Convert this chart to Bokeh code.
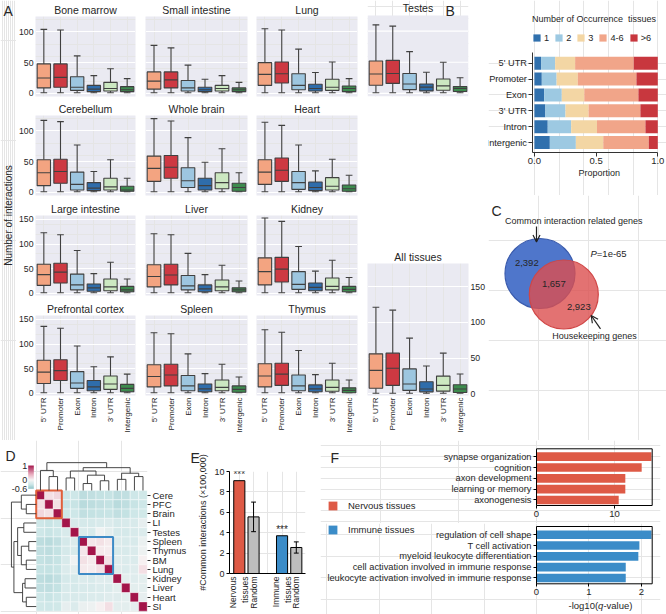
import numpy as np
from bokeh.plotting import figure
from bokeh.layouts import row, column
from bokeh.models import (Range1d, FixedTicker, LinearAxis, Grid, Label, Spacer, ColumnDataSource, Arrow,
                          OpenHead, LinearColorMapper, Legend, LegendItem, NumeralTickFormatter, Title)
from bokeh.transform import dodge
from bokeh.core.properties import value
from bokeh.embed import file_html
from bokeh.resources import INLINE

# ---------------- Panel A : box statistics per tissue ----------------
regions = ["5' UTR", "Promoter", "Exon", "Intron", "3' UTR", "Intergenic"]
whisker_low = [1, 1, 1, 1, 1, 1]
bone_marrow = dict(hi=[104, 103, 61, 29, 40, 24], q3=[48, 48, 27, 13, 18, 11], med=[25, 26, 10, 7, 8, 6], q1=[9, 10, 5, 3, 4, 3])
small_intestine = dict(hi=[78, 74, 46, 23, 29, 18], q3=[35, 35, 21, 10, 13, 9], med=[20, 22, 9, 6, 8, 6], q1=[7, 9, 4, 3, 4, 3])
lung = dict(hi=[105, 103, 72, 34, 51, 24], q3=[50, 51, 32, 15, 23, 12], med=[31, 32, 13, 8, 10, 8], q1=[13, 17, 6, 4, 5, 3])
testes = dict(hi=[110, 108, 67, 34, 50, 25], q3=[52, 53, 32, 15, 23, 11], med=[31, 32, 15, 10, 12, 8], q1=[13, 16, 6, 4, 5, 3])
cerebellum = dict(hi=[117, 115, 77, 34, 53, 23], q3=[53, 54, 33, 16, 23, 10], med=[32, 34, 13, 7, 9, 4], q1=[11, 15, 4, 3, 4, 2])
whole_brain = dict(hi=[120, 116, 89, 49, 71, 32], q3=[59, 60, 40, 23, 32, 15], med=[39, 41, 19, 11, 16, 8], q1=[18, 23, 8, 4, 6, 2])
heart = dict(hi=[114, 109, 77, 35, 54, 28], q3=[53, 56, 34, 17, 24, 12], med=[33, 36, 16, 8, 10, 6], q1=[13, 18, 5, 3, 4, 2])
large_intestine = dict(hi=[123, 119, 87, 40, 63, 29], q3=[59, 61, 39, 19, 29, 14], med=[38, 43, 17, 11, 13, 7], q1=[16, 21, 7, 4, 5, 3])
liver = dict(hi=[121, 119, 81, 38, 57, 25], q3=[58, 59, 36, 17, 27, 11], med=[34, 37, 15, 9, 13, 7], q1=[13, 17, 7, 3, 5, 3])
kidney = dict(hi=[153, 146, 95, 45, 67, 32], q3=[72, 73, 44, 21, 31, 14], med=[44, 49, 18, 12, 14, 8], q1=[17, 23, 8, 5, 7, 3])
prefrontal_cortex = dict(hi=[136, 132, 96, 54, 74, 39], q3=[67, 68, 44, 26, 35, 18], med=[43, 46, 21, 13, 19, 10], q1=[20, 26, 10, 5, 8, 3])
spleen = dict(hi=[123, 121, 80, 40, 59, 33], q3=[58, 59, 36, 19, 27, 15], med=[34, 37, 15, 9, 12, 8], q1=[13, 15, 5, 3, 5, 2])
thymus = dict(hi=[129, 124, 87, 38, 61, 27], q3=[60, 61, 37, 17, 27, 11], med=[35, 39, 15, 9, 12, 6], q1=[13, 16, 5, 3, 4, 1])
all_tissues = dict(hi=[121, 117, 78, 39, 57, 28], q3=[56, 57, 35, 17, 25, 13], med=[33, 36, 14, 7, 12, 7], q1=[8, 12, 5, 3, 4, 2])
ticks_small = [0, 50, 100]
ticks_large = [0, 50, 100, 150]

# ---------------- Panel B : occurrence proportions ----------------
b_regions = ["5' UTR", "Promoter", "Exon", "3' UTR", "Intron", "Intergenic"]
occurrence_classes = ["1", "2", "3", "4-6", ">6"]
occ_1 = [0.054, 0.060, 0.079, 0.089, 0.108, 0.125]
occ_2 = [0.114, 0.120, 0.143, 0.163, 0.190, 0.211]
occ_3 = [0.162, 0.172, 0.182, 0.187, 0.209, 0.222]
occ_4_6 = [0.475, 0.475, 0.439, 0.420, 0.393, 0.369]
occ_gt6 = [0.195, 0.173, 0.157, 0.141, 0.100, 0.073]

# ---------------- Panel C : Venn counts ----------------
only_common = 2392
shared_genes = 1657
only_housekeeping = 2923
venn_p = "1e-65"

# ---------------- Panel D : tissue correlation ----------------
d_tissues = ["Cere", "PFC", "Brain", "LI", "Testes", "Spleen", "Thymus", "BM", "Lung", "Kidney", "Liver", "Heart", "SI"]
r_cere = [1, .12, .15, -.30, -.30, -.38, -.36, -.35, -.33, -.38, -.36, -.30, -.28]
r_pfc = [.12, 1, .10, -.32, -.32, -.40, -.38, -.36, -.34, -.40, -.37, -.32, -.30]
r_brain = [.15, .10, 1, -.30, -.30, -.36, -.35, -.33, -.32, -.36, -.34, -.30, -.28]
r_li = [-.30, -.32, -.30, 1, -.22, -.25, -.24, -.22, -.20, -.25, -.22, -.22, -.12]
r_testes = [-.30, -.32, -.30, -.22, 1, -.20, -.22, -.05, -.15, -.25, -.24, -.22, -.20]
r_spleen = [-.38, -.40, -.36, -.25, -.20, 1, .08, .10, .05, -.20, -.22, -.22, -.10]
r_thymus = [-.36, -.38, -.35, -.24, -.22, .08, 1, .06, .04, -.22, -.22, -.20, -.08]
r_bm = [-.35, -.36, -.33, -.22, -.05, .10, .06, 1, .10, -.18, -.20, -.20, .02]
r_lung = [-.33, -.34, -.32, -.20, -.15, .05, .04, .10, 1, -.18, -.20, -.18, .12]
r_kidney = [-.38, -.40, -.36, -.25, -.25, -.20, -.22, -.18, -.18, 1, -.15, -.18, -.15]
r_liver = [-.36, -.37, -.34, -.22, -.24, -.22, -.22, -.20, -.20, -.15, 1, -.15, -.15]
r_heart = [-.30, -.32, -.30, -.22, -.22, -.22, -.20, -.20, -.18, -.18, -.15, 1, -.12]
r_si = [-.28, -.30, -.28, -.12, -.20, -.10, -.08, .02, .12, -.15, -.15, -.12, 1]
col_tree = ((0, (1, 2, 0.5), 0.72), (((3, 4, 0.45), ((5, 6, 0.25), (7, 8, 0.35), 0.55), 0.7), ((9, 10, 0.4), (11, 12, 0.5), 0.62), 0.82), 1.0)
row_tree = ((0, (1, 2, 0.4), 0.6), (((3, 4, 0.5), ((5, 6, 0.3), (7, 8, 0.4), 0.6), 0.75), ((9, 10, 0.45), (11, 12, 0.4), 0.55), 0.9), 1.0)

# ---------------- Panel E : common interactions ----------------
e_groups = ["Nervous\ntissues", "Random", "Immune\ntissues", "Random"]
e_values = [9.1, 5.55, 3.7, 2.55]
random_lower = [4.1, 2.0]
random_upper = [7.0, 3.1]

# ---------------- Panel F : GO enrichment ----------------
nervous_terms = ["synapse organization", "cognition", "axon development", "learning or memory", "axonogenesis"]
nervous_q = [14.75, 13.5, 11.4, 11.4, 10.55]
immune_terms = ["regulation of cell shape", "T cell activation", "myeloid leukocyte differentiation",
                "cell activation involved in immune response", "leukocyte activation involved in immune response"]
immune_q = [2.19, 1.96, 1.94, 1.70, 1.70]

# ---------------- styles ----------------
FONT = "Liberation Sans"
INK = "#262626"
EDGE = "#404040"
PANEL_BG = "#EAEAF2"
region_colors = ["#F3A481", "#CD3942", "#9DC6E0", "#2F6DAB", "#CCE8C1", "#3D8B4E"]
occ_colors = ["#3070AD", "#9DC9E2", "#F3D6A4", "#F1A589", "#C8373E"]
RED = "#DE5A46"
BLUE = "#3B8CC8"


def base_fig(w, h, bl, br, bt, bb, xr, yr, title=None):
    p = figure(width=w, height=h, x_range=xr, y_range=yr, title=title,
               x_axis_location=None, y_axis_location=None,
               output_backend="svg", toolbar_location=None,
               min_border_left=bl, min_border_right=br, min_border_top=bt, min_border_bottom=bb)
    p.frame_align = False
    p.outline_line_color = None
    p.border_fill_color = "white"
    p.background_fill_color = "white"
    return p


def plain_axis(ax, size="9px", standoff=2, tick_out=0, line=None, tick_color=None):
    ax.axis_line_color = line
    ax.major_tick_line_color = tick_color
    ax.major_tick_out = tick_out
    ax.major_tick_in = 0
    ax.minor_tick_line_color = None
    ax.minor_tick_out = 0
    ax.minor_tick_in = 0
    ax.major_label_text_font = FONT
    ax.major_label_text_font_size = size
    ax.major_label_text_color = INK
    ax.major_label_standoff = standoff
    ax.axis_label_text_font = FONT
    ax.axis_label_text_font_style = "normal"
    ax.axis_label_text_color = INK
    return ax


def add_text(p, x, y, s, size="9px", align="left", baseline="middle", angle=0, style="normal", color=INK):
    p.text(x=[x], y=[y], text=[s], angle=angle, text_font=value(FONT), text_font_size=value(size),
           text_align=align, text_baseline=baseline, text_font_style=style, text_color=color)


def draw_boxes(p, d):
    src = ColumnDataSource(dict(x=list(range(6)), lo=whisker_low, q1=d["q1"], med=d["med"], q3=d["q3"],
                                hi=d["hi"], color=region_colors))
    kw = dict(source=src, line_color=EDGE, line_width=1.1)
    p.segment(x0="x", y0="q3", x1="x", y1="hi", **kw)
    p.segment(x0="x", y0="lo", x1="x", y1="q1", **kw)
    p.segment(x0=dodge("x", -0.2), y0="hi", x1=dodge("x", 0.2), y1="hi", **kw)
    p.segment(x0=dodge("x", -0.2), y0="lo", x1=dodge("x", 0.2), y1="lo", **kw)
    p.vbar(x="x", bottom="q1", top="q3", width=0.8, fill_color="color", **kw)
    p.segment(x0=dodge("x", -0.4), y0="med", x1=dodge("x", 0.4), y1="med", **kw)


def box_panel(title, d, w, h, bl, br, bt, bb, yr, yticks, yside=None, xlabels=False):
    p = base_fig(w, h, bl, br, bt, bb, Range1d(-0.5, 5.5), Range1d(*yr), title=title)
    p.title.align = "center"
    p.title.text_font = FONT
    p.title.text_font_size = "10.5px"
    p.title.text_font_style = "normal"
    p.title.text_color = INK
    p.title.standoff = 2
    p.background_fill_color = PANEL_BG
    p.add_layout(Grid(dimension=1, ticker=FixedTicker(ticks=yticks), grid_line_color="white", grid_line_width=1.1))
    draw_boxes(p, d)
    if yside:
        p.add_layout(plain_axis(LinearAxis(ticker=FixedTicker(ticks=yticks)), size="8.7px"), yside)
    if xlabels:
        ax = plain_axis(LinearAxis(ticker=FixedTicker(ticks=list(range(6))),
                                   major_label_overrides={i: r for i, r in enumerate(regions)}), size="8px")
        ax.major_label_orientation = np.pi / 2
        p.add_layout(ax, "below")
    return p


def box_panel_headed(title, d, w, h, bl, br, bb, head, yr, yticks, letter, letter_dx):
    """Frame also spans the title strip, so the panel letter of B can sit beside the title."""
    uy = (h - bb - head) / (yr[1] - yr[0])
    y_end = yr[1] + head / uy
    p = base_fig(w, h, bl, br, 0, bb, Range1d(-0.5, 5.5), Range1d(yr[0], y_end))
    p.quad(left=[-0.5], right=[5.5], bottom=[yr[0]], top=[yr[1]], fill_color=PANEL_BG, line_color=None)
    p.segment(x0=[-0.5] * len(yticks), y0=yticks, x1=[5.5] * len(yticks), y1=yticks,
              line_color="white", line_width=1.1)
    draw_boxes(p, d)
    add_text(p, 2.5, yr[1] + 2 / uy, title, size="10.5px", align="center", baseline="bottom")
    ux = (w - bl - br) / 6.0
    add_text(p, -0.5 + letter_dx / ux, y_end - 2 / uy, letter, size="14px", baseline="top")
    return p


# ---------------- Panel A layout (page = 666 x 614) ----------------
YR_S = (-5, 125)
YR_L = (-4.5, 158)
rows_spec = [(99, 15, 3, YR_S, ticks_small, False), (98, 16, 2, YR_S, ticks_small, False),
             (101, 18, 3, YR_L, ticks_large, False), (142, 17, 45, YR_L, ticks_large, True)]
cols_spec = [(124, 17, 5), (111, 5, 4), (110, 5, 4), (127, 6, 20)]
grid = [[("Bone marrow", bone_marrow), ("Small intestine", small_intestine), ("Lung", lung), ("Testes", testes)],
        [("Cerebellum", cerebellum), ("Whole brain", whole_brain), ("Heart", heart), None],
        [("Large intestine", large_intestine), ("Liver", liver), ("Kidney", kidney), None],
        [("Prefrontal cortex", prefrontal_cortex), ("Spleen", spleen), ("Thymus", thymus), None]]

columns_a = []
for ci, (w, bl, br) in enumerate(cols_spec):
    figs = []
    for ri, (h, bt, bb, yr, yt, xl) in enumerate(rows_spec):
        cell = grid[ri][ci]
        if cell is None:
            continue
        if ci == 3:
            figs.append(box_panel_headed(cell[0], cell[1], w, h, bl, br, bb, bt, yr, yt, "B", 78))
        else:
            figs.append(box_panel(cell[0], cell[1], w, h, bl, br, bt, bb, yr, yt,
                                  yside="left" if ci == 0 else None, xlabels=xl))
    if ci == 3:
        p_all = box_panel("All tissues", all_tissues, w, 243, bl, br, 66, 45, (-2.1, 182.1), ticks_large,
                          yside="right", xlabels=True)
        figs += [Spacer(width=w, height=98), p_all]
    columns_a.append(column(*figs))

pY = base_fig(16, 440, 0, 0, 0, 0, Range1d(0, 16), Range1d(0, 440))
add_text(pY, 8, 225, "Number of interactions", size="10px", align="center", angle=np.pi / 2)
add_text(pY, 3, 438, "A", size="14px", baseline="top")

# ---------------- Panel B (frame covers the whole tile; axes pinned inside) ----------------
pB = base_fig(178, 195, 0, 0, 0, 0, Range1d(-0.372, 1.0705), Range1d(-3.338, 8.947))
yB = [5 - i for i in range(len(b_regions))]
srcB = ColumnDataSource(dict(y=yB, o1=occ_1, o2=occ_2, o3=occ_3, o4=occ_4_6, o5=occ_gt6))
rB = pB.hbar_stack(["o1", "o2", "o3", "o4", "o5"], y="y", height=0.82, color=occ_colors,
                   line_color=None, source=srcB)
yaxB = LinearAxis(fixed_location=-0.012, ticker=FixedTicker(ticks=yB), bounds=(-0.61, 5.67),
                  major_label_overrides={y: r for y, r in zip(yB, b_regions)})
pB.add_layout(plain_axis(yaxB, size="9.2px", standoff=2, tick_out=4, line="#333333", tick_color="#333333"), "left")
xaxB = LinearAxis(fixed_location=-0.61, ticker=FixedTicker(ticks=[0, 0.5, 1.0]), bounds=(-0.012, 1.0),
                  formatter=NumeralTickFormatter(format="0.0"))
pB.add_layout(plain_axis(xaxB, size="9.5px", standoff=2, tick_out=4, line="#333333", tick_color="#333333"), "below")
add_text(pB, 0.525, -1.93, "Proportion", size="9px", align="center")
pB.add_layout(Legend(items=[LegendItem(label=l, renderers=[r]) for l, r in zip(occurrence_classes, rB)],
                     orientation="horizontal", location=(44, 152.5), title="Number of Occurrence  tissues",
                     title_text_font=FONT, title_text_font_size="9px", title_text_font_style="normal",
                     title_text_color=INK, title_standoff=9, label_text_font=FONT, label_text_font_size="9.2px",
                     label_text_color=INK, glyph_width=9, glyph_height=9, label_height=9, label_width=0,
                     label_standoff=3, spacing=5, padding=0, margin=0, border_line_color=None,
                     background_fill_alpha=0))

# ---------------- Panel C ----------------
pC = base_fig(178, 245, 0, 0, 0, 0, Range1d(0, 178), Range1d(0, 245))
pC.circle(x=[51.5], y=[167], radius=35, fill_color="#4F76CB", line_color="#3A5BAD", line_width=1.2)
pC.circle(x=[75.3], y=[146], radius=34.5, fill_color="#DC4F4F", fill_alpha=0.8, line_color="#D04646", line_width=1.2)
add_text(pC, 3, 238, "C", size="14px", baseline="top")
add_text(pC, 85.3, 219.3, "Common interaction related genes", size="9px", align="center")
add_text(pC, 38.3, 178, f"{only_common:,}", size="9.5px", align="center")
add_text(pC, 65.3, 156.7, f"{shared_genes:,}", size="9.5px", align="center")
add_text(pC, 90.3, 134, f"{only_housekeeping:,}", size="9.5px", align="center")
add_text(pC, 102, 186.7, "P", size="9.5px", style="italic")
add_text(pC, 108.3, 186.7, "=" + venn_p, size="9.5px")
add_text(pC, 106, 105, "Housekeeping genes", size="9px", align="center")
pC.add_layout(Arrow(end=OpenHead(size=7, line_width=1.2, line_color="#222222"), x_start=48, y_start=214,
                    x_end=48, y_end=198.5, line_width=1.2, line_color="#222222"))
pC.add_layout(Arrow(end=OpenHead(size=7, line_width=1.2, line_color="#222222"), x_start=112, y_start=111.7,
                    x_end=102.7, y_end=125, line_width=1.2, line_color="#222222"))


# ---------------- Panel D ----------------
def lerp_palette(stops, n=160):
    vs = [s[0] for s in stops]
    cs = [tuple(int(s[1][i:i + 2], 16) for i in (1, 3, 5)) for s in stops]
    out = []
    for t in np.linspace(vs[0], vs[-1], n):
        k = min(int(np.searchsorted(vs, t, side="right")) - 1, len(vs) - 2)
        f = (t - vs[k]) / (vs[k + 1] - vs[k])
        rgb = [int(round(cs[k][j] + f * (cs[k + 1][j] - cs[k][j]))) for j in range(3)]
        out.append("#%02x%02x%02x" % tuple(rgb))
    return out


def dendro(node):
    if isinstance(node, int):
        return node + 0.5, 0.0, [], []
    l, r, h = node
    pl, hl, xl, yl = dendro(l)
    pr, hr, xr, yr = dendro(r)
    return (pl + pr) / 2, h, xl + xr + [[pl, pl, pr, pr]], yl + yr + [[hl, h, h, hr]]


corr = [r_cere, r_pfc, r_brain, r_li, r_testes, r_spleen, r_thymus, r_bm, r_lung, r_kidney, r_liver, r_heart, r_si]
mapper = LinearColorMapper(palette=lerp_palette([(-0.6, "#93C6CA"), (-0.3, "#CEE7E8"), (0.0, "#F7F4F4"),
                                                 (0.4, "#E8AABC"), (1.0, "#A3154A")]), low=-0.6, high=1.0)
pD = base_fig(190, 174, 0, 43, 0, 0, Range1d(-4.18, 13.03), Range1d(-0.355, 18.385))
hx, hy, hv = [], [], []
for ri, rowv in enumerate(corr):
    for cj, v in enumerate(rowv):
        hx.append(cj + 0.5)
        hy.append(12.5 - ri)
        hv.append(v)
pD.rect(x="x", y="y", width=1, height=1, source=ColumnDataSource(dict(x=hx, y=hy, v=hv)),
        fill_color={"field": "v", "transform": mapper}, line_color="white", line_width=0.4)
pD.quad(left=[0, 5], right=[3, 9], bottom=[10, 4], top=[13, 8], fill_color=None,
        line_color=["#E0603A", "#3C8AC6"], line_width=2)
_, _, txs, tys = dendro(col_tree)
pD.multi_line(xs=txs, ys=[[13 + 3.0 * v for v in ys] for ys in tys], line_color="#333333", line_width=0.9)
_, _, lxs, lys = dendro(row_tree)
pD.multi_line(xs=[[-2.9 * v for v in ys] for ys in lys], ys=[[13 - v for v in xs] for xs in lxs],
              line_color="#333333", line_width=0.9)
pD.image(image=[np.linspace(-0.6, 1.0, 100).reshape(100, 1)], x=-0.937, y=13.18, dw=0.656, dh=2.51,
         color_mapper=mapper)
for tv, ts in [(1.0, "1"), (0.0, "0"), (-0.6, "-0.6")]:
    add_text(pD, -1.05, 13.18 + (tv + 0.6) / 1.6 * 2.51, ts, size="9px", align="right")
add_text(pD, -3.6, 17.63, "D", size="14px", baseline="top")
axD = plain_axis(LinearAxis(ticker=FixedTicker(ticks=[12.5 - i for i in range(13)]),
                            major_label_overrides={12.5 - i: t for i, t in enumerate(d_tissues)}),
                 size="9.5px", standoff=2, tick_out=3, tick_color="#333333")
pD.add_layout(axD, "right")

# ---------------- Panel E ----------------
e_slots = [0, 1, 3, 4]
pE = base_fig(130, 174, 39, 15, 31, 41, Range1d(-0.688, 4.646), Range1d(0, 10))
pE.vbar(x=e_slots, top=e_values, width=0.78, fill_color=[RED, "#BEBEBE", BLUE, "#BEBEBE"],
        line_color="black", line_width=1)
srcE = ColumnDataSource(dict(x=[e_slots[1], e_slots[3]], lo=random_lower, hi=random_upper))
pE.segment(x0="x", y0="lo", x1="x", y1="hi", source=srcE, line_color="black", line_width=1)
pE.segment(x0=dodge("x", -0.17), y0="lo", x1=dodge("x", 0.17), y1="lo", source=srcE, line_color="black", line_width=1)
pE.segment(x0=dodge("x", -0.17), y0="hi", x1=dodge("x", 0.17), y1="hi", source=srcE, line_color="black", line_width=1)
for k in (0, 2):
    pE.add_layout(Label(x=e_slots[k], y=e_values[k] + 0.05, text="***", text_font=FONT, text_font_size="10px",
                        text_align="center", text_baseline="bottom", text_color=INK))
axEy = plain_axis(LinearAxis(ticker=FixedTicker(ticks=[0, 2, 4, 6, 8, 10]),
                             axis_label="#Common interactions (\u00d7100,000)"),
                  size="9px", standoff=2, tick_out=3, line="black", tick_color="black")
axEy.axis_label_text_font_size = "9px"
axEy.axis_label_standoff = 3
pE.add_layout(axEy, "left")
axEx = plain_axis(LinearAxis(ticker=FixedTicker(ticks=e_slots),
                             major_label_overrides={s: g for s, g in zip(e_slots, e_groups)}),
                  size="8.5px", standoff=3, line="black")
axEx.major_label_orientation = np.pi / 2
pE.add_layout(axEx, "below")
pE.add_layout(Title(text="E", align="left", offset=-39, standoff=12, text_font=FONT, text_font_size="14px",
                    text_font_style="normal", text_color=INK), "above")


# ---------------- Panel F ----------------
def go_panel(terms, vals, color, h, box_top, box_bottom, ylo, yhi, xmax, xticks):
    ux = 115.7 / xmax
    uy = (box_bottom - box_top) / (yhi - ylo)
    y_end = yhi + box_top / uy
    p = base_fig(346, h, 0, 6, 0, 0, Range1d(-216.0 / ux, 124.0 / ux),
                 Range1d(ylo - (h - box_bottom) / uy, y_end))
    ys = list(range(len(terms)))[::-1]
    r = p.hbar(y=ys, left=0, right=vals, height=0.8, fill_color=color, line_color=None)
    p.quad(left=[0], right=[xmax], bottom=[ylo], top=[yhi], fill_color=None, line_color="black", line_width=1)
    yax = LinearAxis(fixed_location=0, ticker=FixedTicker(ticks=ys),
                     major_label_overrides={y: t for y, t in zip(ys, terms)})
    p.add_layout(plain_axis(yax, size="9.3px", standoff=2, tick_out=3, tick_color="black"), "left")
    xax = LinearAxis(fixed_location=ylo, ticker=FixedTicker(ticks=xticks))
    p.add_layout(plain_axis(xax, size="9.5px", standoff=2, tick_out=3, tick_color="black"), "below")
    to_x = lambda px: (px - 536.0) / ux
    to_y = lambda py: y_end - py / uy
    return p, r, to_x, to_y


pFt, rFt, fx1, fy1 = go_panel(nervous_terms, nervous_q, RED, 83, 8.3, 65, -0.51, 4.73, 14.85, [0, 10])
pFb, rFb, fx2, fy2 = go_panel(immune_terms, immune_q, BLUE, 91, 3, 60.3, -0.54, 4.76, 2.204, [0, 1, 2])
for fig, rr, lab, loc in [(pFt, rFt, "Nervous tissues", (7, 12.5)), (pFb, rFb, "Immune tissues", (7, 79))]:
    fig.add_layout(Legend(items=[LegendItem(label=lab, renderers=[rr])], location=loc,
                          label_text_font=FONT, label_text_font_size="9.5px", label_text_color=INK,
                          glyph_width=11, glyph_height=11, label_height=11, label_standoff=10,
                          padding=0, margin=0, border_line_color=None, background_fill_alpha=0))
add_text(pFt, fx1(330), fy1(9), "F", size="14px", baseline="top")
add_text(pFb, fx2(597.6), fy2(82), "-log10(", size="9.5px", align="right")
add_text(pFb, fx2(597.6), fy2(82), "q", size="9.5px", style="italic")
add_text(pFb, fx2(602.9), fy2(82), "-value)", size="9.5px")

# ---------------- page ----------------
top = row(pY, *columns_a, column(pB, pC))
bottom = row(pD, pE, column(pFt, pFb))
page = column(top, bottom)

open("out.html", "w").write(file_html(page, INLINE, title="figure"))
